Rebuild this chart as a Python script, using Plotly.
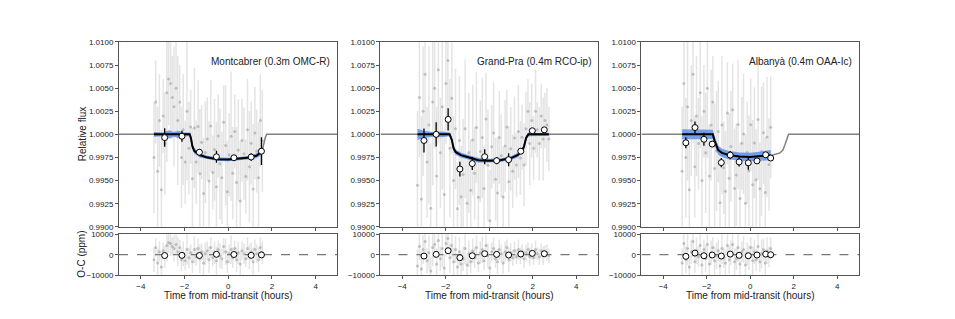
import plotly.graph_objects as go

# ---------------- axes / labels ----------------
XRANGE = [-5, 5]
FLUX_RANGE = [0.99, 1.01]
RES_RANGE = [-10000, 10000]
flux_ticks = [0.99, 0.9925, 0.995, 0.9975, 1.0, 1.0025, 1.005, 1.0075, 1.01]
res_ticks = [-10000, 0, 10000]
x_ticks = [-4, -2, 0, 2, 4]
titles = ["Montcabrer (0.3m OMC-R)", "Grand-Pra (0.4m RCO-ip)", "Albanyà (0.4m OAA-Ic)"]

# ---------------- Panel 1 : Montcabrer ----------------
p1_t = [-3.40, -3.32, -3.23, -3.15, -3.06, -2.98, -2.90, -2.81, -2.73, -2.64,
        -2.56, -2.48, -2.39, -2.31, -2.22, -2.14, -2.06, -1.97, -1.89, -1.80,
        -1.72, -1.64, -1.55, -1.47, -1.38, -1.30, -1.22, -1.13, -1.05, -0.96,
        -0.88, -0.80, -0.71, -0.63, -0.54, -0.46, -0.38, -0.29, -0.21, -0.12,
        -0.04, 0.04, 0.13, 0.21, 0.30, 0.38, 0.46, 0.55, 0.63, 0.72,
        0.80, 0.88, 0.97, 1.05, 1.14, 1.22, 1.30, 1.39, 1.47, 1.56]
p1_flux_ppm = [-2500, 3500, -4000, 1500, -6000, 2000, -1000, 4500, 6000, 5500,
               4000, 3000, 5000, 1500, 3500, -2500, 500, -3000, 2500, -1500,
               800, -4800, 700, -3000, 850, -4250, -850, -6400, -1950, -500,
               -5050, 900, -4120, -1650, -5670, -180, -3190, -4700, 1300, -1200,
               -6200, -2200, -200, -4200, 300, -5200, -1700, -7200, -650, -2100,
               -4550, 500, -3500, -950, -5900, 150, -1800, -4700, 1500, -700]
p1_res_ppm = [-2500, 3500, -4000, 1500, -6000, 2000, -1000, 4500, 6000, 5500,
              4000, 3000, 5000, 1500, 3500, -2500, 500, -3000, 2500, -1500,
              1000, -3500, 2500, -1000, 3000, -2000, 1500, -4000, 500, 2000,
              -2500, 3500, -1500, 1000, -3000, 2500, -500, -2000, 4000, 1500,
              -3500, 500, 2500, -1500, 3000, -2500, 1000, -4500, 2000, 500,
              -2000, 3000, -1000, 1500, -3500, 2500, 500, -2500, 3500, 1000]
p1_err_ppm = [6000, 4500, 7000, 5000, 6500, 4000, 5500, 7500, 5000, 6000,
              4500, 6500, 5000, 7000, 4000, 5500, 6000, 4500, 7500, 5000,
              4000, 5500, 6500, 4500, 5000, 7000, 4000, 6000, 5500, 4500,
              6500, 5000, 4000, 5500, 7000, 4500, 6000, 5000, 4000, 6500,
              5500, 4500, 7000, 5000, 4000, 6000, 5500, 6500, 4500, 5000,
              4000, 5500, 6000, 4500, 7000, 5000, 4500, 6000, 5000, 5500]
p1_bin_t = [-2.91, -2.12, -1.32, -0.54, 0.26, 1.05, 1.52]
p1_bin_flux = [0.99965, 0.99980, 0.99807, 0.99758, 0.99747, 0.99755, 0.99818]
p1_bin_err = [0.0010, 0.0006, 0.0003, 0.00065, 0.0003, 0.0004, 0.0015]
p1_bin_res = [-400, -300, -400, 200, 100, -300, -100]
p1_model_t = [-5, -1.76, -1.70, -1.64, -1.55, -1.47, -1.30, -1.0, -0.5, 0, 0.5, 1.0, 1.30, 1.47, 1.56, 1.62, 1.70, 1.76, 5]
p1_model_ppm = [0, 0, -500, -1300, -1800, -2000, -2250, -2480, -2680, -2720, -2650, -2500, -2300, -2000, -1700, -1000, -300, 0, 0]
p1_band_t = [-3.40, -3.0, -2.7, -2.5, -2.3, -2.0, -1.76, -1.70, -1.64, -1.55, -1.30, -1.0, -0.5, 0, 0.5, 1.0, 1.30, 1.47, 1.56]
p1_band_mid = [0, 0, 0, 0, 0, 0, 0, -500, -1300, -1800, -2250, -2480, -2680, -2720, -2650, -2500, -2300, -2000, -1700]
p1_band_hw = [250, 200, 450, 250, 400, 200, 200, 250, 300, 300, 250, 200, 200, 200, 200, 200, 250, 300, 300]

# ---------------- Panel 2 : Grand-Pra ----------------
p2_t = [-3.30, -3.21, -3.12, -3.04, -2.95, -2.86, -2.77, -2.69, -2.60, -2.51,
        -2.42, -2.34, -2.25, -2.16, -2.07, -1.99, -1.90, -1.81, -1.72, -1.64,
        -1.55, -1.46, -1.37, -1.29, -1.20, -1.11, -1.02, -0.94, -0.85, -0.76,
        -0.67, -0.59, -0.50, -0.41, -0.32, -0.24, -0.15, -0.06, 0.03, 0.11,
        0.20, 0.29, 0.38, 0.46, 0.55, 0.64, 0.73, 0.81, 0.90, 0.99,
        1.08, 1.16, 1.25, 1.34, 1.43, 1.51, 1.60, 1.69, 1.78, 1.86,
        1.95, 2.04, 2.13, 2.21, 2.30, 2.39, 2.48, 2.56, 2.65, 2.74]
p2_flux_ppm = [-5500, 4000, -7000, 2500, 6500, -3000, 1000, -8000, 3500, 5000,
               -4500, 7000, -2000, 3000, -6500, 5500, 8000, -1500, 3900, -5000,
               600, -8050, -650, -6750, -4350, 600, -7450, -2000, -6050, -600,
               -4200, 750, -6800, -1850, -350, -5850, 1650, -3350, -9350, -1350,
               150, -4850, -6350, -350, -2300, -6780, -1250, 800, -5120, -1560,
               -4000, -400, -3300, 300, -2550, -300, -3300, 600, 2500, -1000,
               1500, -1500, 2500, 500, -1000, 2000, -500, 1500, 1000, -500]
p2_res_ppm = [-5500, 4000, -7000, 2500, 6500, -3000, 1000, -8000, 3500, 5000,
              -4500, 7000, -2000, 3000, -6500, 5500, 8000, -1500, 4500, -3500,
              2500, -6000, 1500, -4500, -2000, 3000, -5000, 500, -3500, 2000,
              -1500, 3500, -4000, 1000, 2500, -3000, 4500, -500, -6500, 1500,
              3000, -2000, -3500, 2500, 500, -4000, 1500, 3500, -2500, 1000,
              -1500, 2000, -1000, 2500, -500, 1500, -2000, 1000, 2500, -1000,
              1500, -1500, 2500, 500, -1000, 2000, -500, 1500, 1000, -500]
p2_err_ppm = [8000, 6500, 9000, 7000, 7500, 6000, 8500, 7000, 9000, 6500,
              7500, 8000, 6000, 9000, 7000, 6500, 8000, 7500, 6000, 7000,
              6500, 5000, 7000, 5500, 6000, 7500, 5000, 6500, 5500, 6000,
              5000, 6000, 4500, 5500, 6500, 4500, 5000, 6000, 5500, 4500,
              5500, 4500, 6000, 5000, 4500, 5500, 5000, 4000, 6000, 4500,
              4000, 4500, 3500, 5000, 4000, 3500, 4500, 4000, 3500, 4500,
              4000, 3500, 4500, 3000, 4000, 3500, 4500, 3000, 4000, 3500]
p2_bin_t = [-3.00, -2.44, -1.89, -1.35, -0.78, -0.21, 0.34, 0.89, 1.45, 1.98, 2.53]
p2_bin_flux = [0.99934, 1.00000, 1.00162, 0.99625, 0.99684, 0.99758, 0.99716, 0.99726, 0.99818, 1.00039, 1.00049]
p2_bin_err = [0.0013, 0.0013, 0.0012, 0.0008, 0.0007, 0.0008, 0.0004, 0.0007, 0.0003, 0.0003, 0.0003]
p2_bin_res = [-650, 160, 1950, -1460, -490, 490, 160, -160, 330, 650, 490]
p2_model_t = [-5, -1.82, -1.72, -1.64, -1.55, -1.30, -1.0, -0.5, 0, 0.5, 1.0, 1.30, 1.51, 1.60, 1.69, 1.80, 5]
p2_model_ppm = [0, 0, -600, -1500, -1900, -2250, -2450, -2800, -2850, -2800, -2560, -2250, -1800, -1300, -400, 0, 0]
p2_band_t = [-3.30, -3.0, -2.6, -2.2, -1.82, -1.72, -1.64, -1.55, -1.30, -1.0, -0.5, 0, 0.5, 1.0, 1.30, 1.51, 1.60, 1.69, 1.80, 2.2, 2.74]
p2_band_mid = [0, 0, 0, 0, 0, -600, -1500, -1900, -2250, -2450, -2800, -2850, -2800, -2560, -2250, -1800, -1300, -400, 0, 0, 0]
p2_band_hw = [600, 400, 250, 300, 200, 300, 300, 300, 250, 250, 250, 200, 200, 200, 250, 250, 300, 300, 200, 150, 150]

# ---------------- Panel 3 : Albanyà ----------------
p3_t = [-3.13, -3.05, -2.96, -2.88, -2.80, -2.71, -2.63, -2.55, -2.47, -2.38,
        -2.30, -2.22, -2.13, -2.05, -1.97, -1.88, -1.80, -1.72, -1.64, -1.55,
        -1.47, -1.39, -1.30, -1.22, -1.14, -1.05, -0.97, -0.89, -0.81, -0.72,
        -0.64, -0.56, -0.47, -0.39, -0.31, -0.22, -0.14, -0.06, 0.02, 0.11,
        0.19, 0.27, 0.36, 0.44, 0.52, 0.61, 0.69, 0.77, 0.86, 0.94]
p3_flux_ppm = [-4000, 5500, -2500, 3000, -6000, 1500, 6500, -3500, 2000, -1000,
               4500, -5000, 2500, -2000, 5000, -4500, 1000, 3500, -3700, -1800,
               300, -7400, 1000, -3600, -6150, 2300, -4750, -1300, 2670, -5860,
               -4400, 1080, -6940, -950, 50, -7450, -1950, -3950, 1050, -5440,
               -930, -4920, 1600, -5880, -1850, 170, -6300, -280, -3260, 760]
p3_res_ppm = [-4000, 5500, -2500, 3000, -6000, 1500, 6500, -3500, 2000, -1000,
              4500, -5000, 2500, -2000, 5000, -4500, 1000, 3500, -3000, -500,
              2000, -5500, 3000, -1500, -4000, 4500, -2500, 1000, 5000, -3500,
              -2000, 3500, -4500, 1500, 2500, -5000, 500, -1500, 3500, -3000,
              1500, -2500, 4000, -3500, 500, 2500, -4000, 2000, -1000, 3000]
p3_err_ppm = [7000, 5500, 6500, 8000, 5000, 6000, 7500, 5500, 6500, 5000,
              6000, 7000, 5000, 6500, 7500, 5500, 6000, 5000, 7000, 6500,
              5500, 6000, 7500, 5000, 6500, 5500, 7000, 6000, 5000, 6500,
              5500, 7000, 6000, 5000, 6500, 7500, 5500, 6000, 5000, 7000,
              6000, 5500, 6500, 5000, 7000, 5500, 6000, 6500, 5000, 5500]
p3_bin_t = [-2.96, -2.54, -2.13, -1.75, -1.33, -0.92, -0.51, -0.09, 0.31, 0.71, 0.94]
p3_bin_flux = [0.99909, 1.00074, 0.99947, 0.99895, 0.99695, 0.99776, 0.99702, 0.99692, 0.99713, 0.99779, 0.99744]
p3_bin_err = [0.0006, 0.00065, 0.0007, 0.0003, 0.0005, 0.00045, 0.0005, 0.00075, 0.0003, 0.0003, 0.0003]
p3_bin_res = [-800, 800, -500, -150, -650, 300, -300, -500, -150, 300, 0]
p3_model_t = [-5, -1.72, -1.64, -1.55, -1.47, -1.30, -1.0, -0.5, 0, 0.5, 1.0, 1.37, 1.50, 1.60, 1.68, 1.76, 5]
p3_model_ppm = [0, 0, -700, -1300, -1700, -2000, -2230, -2400, -2450, -2350, -2250, -2000, -1700, -1100, -400, 0, 0]
p3_band_t = [-3.13, -2.5, -2.0, -1.72, -1.64, -1.55, -1.47, -1.30, -1.0, -0.5, 0, 0.5, 0.94]
p3_band_mid = [0, 0, 0, 0, -700, -1300, -1700, -2000, -2230, -2400, -2450, -2350, -2250]
p3_band_hw = [550, 500, 500, 500, 500, 500, 500, 450, 450, 450, 450, 500, 550]

panels = [
    dict(t=p1_t, f=p1_flux_ppm, r=p1_res_ppm, e=p1_err_ppm, bt=p1_bin_t, bf=p1_bin_flux, be=p1_bin_err, br=p1_bin_res,
         mt=p1_model_t, mf=p1_model_ppm, at=p1_band_t, am=p1_band_mid, ah=p1_band_hw),
    dict(t=p2_t, f=p2_flux_ppm, r=p2_res_ppm, e=p2_err_ppm, bt=p2_bin_t, bf=p2_bin_flux, be=p2_bin_err, br=p2_bin_res,
         mt=p2_model_t, mf=p2_model_ppm, at=p2_band_t, am=p2_band_mid, ah=p2_band_hw),
    dict(t=p3_t, f=p3_flux_ppm, r=p3_res_ppm, e=p3_err_ppm, bt=p3_bin_t, bf=p3_bin_flux, be=p3_bin_err, br=p3_bin_res,
         mt=p3_model_t, mf=p3_model_ppm, at=p3_band_t, am=p3_band_mid, ah=p3_band_hw),
]

# ---------------- layout geometry ----------------
W, H = 955, 319
x_domains = [[0.1246, 0.3534], [0.3984, 0.6262], [0.6717, 0.8995]]
top_domain = [0.2812, 0.8777]
bot_domain = [0.1254, 0.2571]

FONT = "Liberation Sans, Arial, Helvetica, sans-serif"
AX = "#555555"
PT_COL = "rgba(145,145,145,0.5)"
EB_COL = "rgba(185,185,185,0.38)"
BAND_COL = "rgba(95,145,232,0.85)"

fig = go.Figure()
layout = dict(width=W, height=H, autosize=False, margin=dict(l=0, r=0, t=0, b=0),
              paper_bgcolor="white", plot_bgcolor="white", showlegend=False,
              font=dict(family=FONT, color="#222"))

common = dict(showline=True, linecolor=AX, linewidth=1, mirror=True, ticks="outside", ticklen=3,
              tickcolor=AX, tickwidth=1, showgrid=False, zeroline=False,
              tickfont=dict(size=8, color="#222", family=FONT))

annotations = []
for i, p in enumerate(panels):
    xt = "x" if i == 0 else f"x{2*i+1}"
    yt = "y" if i == 0 else f"y{2*i+1}"
    xb = f"x{2*i+2}"
    yb = f"y{2*i+2}"
    flux = [1 + v * 1e-6 for v in p["f"]]
    ferr = [v * 1e-6 for v in p["e"]]
    # raw points
    fig.add_trace(go.Scatter(x=p["t"], y=flux, mode="markers", xaxis=xt, yaxis=yt,
                             marker=dict(size=3, color=PT_COL),
                             error_y=dict(type="data", array=ferr, color=EB_COL, thickness=1.5, width=0)))
    # full grey model
    fig.add_trace(go.Scatter(x=p["mt"], y=[1 + v * 1e-6 for v in p["mf"]], mode="lines", xaxis=xt, yaxis=yt,
                             line=dict(color="#808080", width=1.5)))
    # blue credible band
    up = [1 + (m + h) * 1e-6 for m, h in zip(p["am"], p["ah"])]
    lo = [1 + (m - h) * 1e-6 for m, h in zip(p["am"], p["ah"])]
    fig.add_trace(go.Scatter(x=list(p["at"]) + list(p["at"])[::-1], y=up + lo[::-1], mode="lines",
                             fill="toself", fillcolor=BAND_COL, line=dict(width=0), xaxis=xt, yaxis=yt))
    # median model
    fig.add_trace(go.Scatter(x=p["at"], y=[1 + v * 1e-6 for v in p["am"]], mode="lines", xaxis=xt, yaxis=yt,
                             line=dict(color="black", width=2)))
    # binned points
    fig.add_trace(go.Scatter(x=p["bt"], y=p["bf"], mode="markers", xaxis=xt, yaxis=yt,
                             marker=dict(size=6, color="white", line=dict(color="black", width=1)),
                             error_y=dict(type="data", array=p["be"], color="black", thickness=1.3, width=0)))
    # residuals
    fig.add_trace(go.Scatter(x=p["t"], y=p["r"], mode="markers", xaxis=xb, yaxis=yb,
                             marker=dict(size=3, color=PT_COL),
                             error_y=dict(type="data", array=p["e"], color=EB_COL, thickness=1.5, width=0)))
    fig.add_trace(go.Scatter(x=XRANGE, y=[0, 0], mode="lines", xaxis=xb, yaxis=yb,
                             line=dict(color="#777777", width=1.3, dash="dash")))
    fig.add_trace(go.Scatter(x=p["bt"], y=p["br"], mode="markers", xaxis=xb, yaxis=yb,
                             marker=dict(size=6, color="white", line=dict(color="black", width=1)),
                             error_y=dict(type="data", array=[v * 1e6 for v in p["be"]], color="black",
                                          thickness=1.3, width=0)))

    kx_t = "xaxis" if i == 0 else f"xaxis{2*i+1}"
    ky_t = "yaxis" if i == 0 else f"yaxis{2*i+1}"
    kx_b = f"xaxis{2*i+2}"
    ky_b = f"yaxis{2*i+2}"
    layout[kx_t] = dict(common, domain=x_domains[i], range=XRANGE, tickvals=x_ticks, showticklabels=False,
                        anchor=yt)
    layout[ky_t] = dict(common, domain=top_domain, range=FLUX_RANGE, tickvals=flux_ticks, tickformat=".4f",
                        anchor=xt)
    layout[kx_b] = dict(common, domain=x_domains[i], range=XRANGE, tickvals=x_ticks, anchor=yb)
    layout[ky_b] = dict(common, domain=bot_domain, range=RES_RANGE, tickvals=res_ticks, tickformat="d",
                        anchor=xb)

    xc = (x_domains[i][0] + x_domains[i][1]) / 2
    annotations.append(dict(text="Time from mid-transit (hours)", xref="paper", yref="paper",
                            x=xc, y=1 - 300 / H, showarrow=False, xanchor="center", yanchor="middle",
                            font=dict(size=10, color="#222", family=FONT)))
    annotations.append(dict(text=titles[i], xref=f"{xt} domain", yref=f"{yt} domain",
                            x=0.975, y=0.895, showarrow=False, xanchor="right", yanchor="middle",
                            font=dict(size=10, color="#222", family=FONT)))

annotations.append(dict(text="Relative flux", xref="paper", yref="paper", x=82 / W, y=1 - 134 / H,
                        textangle=-90, showarrow=False, xanchor="center", yanchor="middle",
                        font=dict(size=10, color="#222", family=FONT)))
annotations.append(dict(text="O-C (ppm)", xref="paper", yref="paper", x=82 / W, y=1 - 258 / H,
                        textangle=-90, showarrow=False, xanchor="center", yanchor="middle",
                        font=dict(size=10, color="#222", family=FONT)))
layout["annotations"] = annotations

fig.update_layout(**layout)
fig.write_html("out.html", config={"displayModeBar": False},
               post_script="document.body.style.margin='0';document.body.style.overflow='hidden';")
